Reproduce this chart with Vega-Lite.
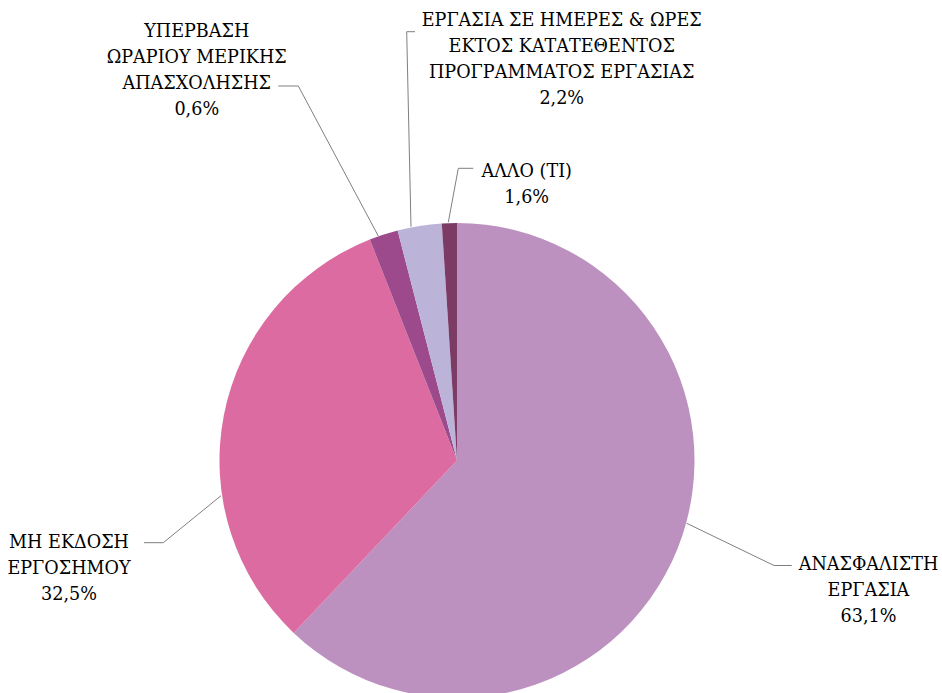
{
  "$schema": "https://vega.github.io/schema/vega-lite/v6.json",
  "width": 475,
  "height": 464,
  "autosize": {"type": "none"},
  "padding": {"left": 219.5, "top": 228.5, "right": 247.5, "bottom": 0.5},
  "background": "white",
  "config": {"view": {"stroke": null}},
  "datasets": {
    "slices": [
      {"idx": 1, "name": "ΑΝΑΣΦΑΛΙΣΤΗ ΕΡΓΑΣΙΑ", "share": 62.07, "label": "ΑΝΑΣΦΑΛΙΣΤΗ\nΕΡΓΑΣΙΑ\n63,1%"},
      {"idx": 2, "name": "ΜΗ ΕΚΔΟΣΗ ΕΡΓΟΣΗΜΟΥ", "share": 31.95, "label": "ΜΗ ΕΚΔΟΣΗ\nΕΡΓΟΣΗΜΟΥ\n32,5%"},
      {"idx": 3, "name": "ΥΠΕΡΒΑΣΗ ΩΡΑΡΙΟΥ ΜΕΡΙΚΗΣ ΑΠΑΣΧΟΛΗΣΗΣ", "share": 1.96, "label": "ΥΠΕΡΒΑΣΗ\nΩΡΑΡΙΟΥ ΜΕΡΙΚΗΣ\nΑΠΑΣΧΟΛΗΣΗΣ\n0,6%"},
      {"idx": 4, "name": "ΕΡΓΑΣΙΑ ΣΕ ΗΜΕΡΕΣ & ΩΡΕΣ ΕΚΤΟΣ ΚΑΤΑΤΕΘΕΝΤΟΣ ΠΡΟΓΡΑΜΜΑΤΟΣ ΕΡΓΑΣΙΑΣ", "share": 3.0, "label": "ΕΡΓΑΣΙΑ ΣΕ ΗΜΕΡΕΣ & ΩΡΕΣ\nΕΚΤΟΣ ΚΑΤΑΤΕΘΕΝΤΟΣ\nΠΡΟΓΡΑΜΜΑΤΟΣ ΕΡΓΑΣΙΑΣ\n2,2%"},
      {"idx": 5, "name": "ΑΛΛΟ (ΤΙ)", "share": 1.02, "label": "ΑΛΛΟ (ΤΙ)\n1,6%"}
    ],
    "leaders": [
      {"seg": "A", "k": 1, "u": 0.9672, "v": -0.2644},
      {"seg": "A", "k": 2, "u": 1.3347, "v": -0.4421},
      {"seg": "A", "k": 3, "u": 1.4093, "v": -0.4421},
      {"seg": "B", "k": 1, "u": -0.9937, "v": -0.1482},
      {"seg": "B", "k": 2, "u": -1.2366, "v": -0.3461},
      {"seg": "B", "k": 3, "u": -1.3179, "v": -0.3461},
      {"seg": "C", "k": 1, "u": -0.3314, "v": 0.9453},
      {"seg": "C", "k": 2, "u": -0.6682, "v": 1.5768},
      {"seg": "C", "k": 3, "u": -0.7524, "v": 1.5768},
      {"seg": "D", "k": 1, "u": -0.1937, "v": 0.9844},
      {"seg": "D", "k": 2, "u": -0.2118, "v": 1.8055},
      {"seg": "D", "k": 3, "u": -0.1768, "v": 1.8055},
      {"seg": "E", "k": 1, "u": -0.0366, "v": 1.0029},
      {"seg": "E", "k": 2, "u": 0.0055, "v": 1.2303},
      {"seg": "E", "k": 3, "u": 0.0686, "v": 1.2303}
    ]
  },
  "layer": [
    {
      "data": {"name": "slices"},
      "mark": {"type": "arc", "outerRadius": 237.5},
      "encoding": {
        "theta": {"field": "share", "type": "quantitative", "stack": true, "scale": {"domain": [0, 100]}},
        "order": {"field": "idx", "type": "quantitative"},
        "color": {
          "field": "name", "type": "nominal", "legend": null,
          "scale": {
            "domain": ["ΑΝΑΣΦΑΛΙΣΤΗ ΕΡΓΑΣΙΑ", "ΜΗ ΕΚΔΟΣΗ ΕΡΓΟΣΗΜΟΥ", "ΥΠΕΡΒΑΣΗ ΩΡΑΡΙΟΥ ΜΕΡΙΚΗΣ ΑΠΑΣΧΟΛΗΣΗΣ", "ΕΡΓΑΣΙΑ ΣΕ ΗΜΕΡΕΣ & ΩΡΕΣ ΕΚΤΟΣ ΚΑΤΑΤΕΘΕΝΤΟΣ ΠΡΟΓΡΑΜΜΑΤΟΣ ΕΡΓΑΣΙΑΣ", "ΑΛΛΟ (ΤΙ)"],
            "range": ["#BC91BF", "#DB6BA1", "#9C4A8B", "#BBB4D8", "#7B3B65"]
          }
        }
      }
    },
    {
      "data": {"name": "leaders"},
      "mark": {"type": "line", "color": "#7f7f7f", "strokeWidth": 1},
      "encoding": {
        "x": {"field": "u", "type": "quantitative", "scale": {"domain": [-1, 1], "nice": false, "zero": false}, "axis": null},
        "y": {"field": "v", "type": "quantitative", "scale": {"domain": [-0.97684, 0.97684], "nice": false, "zero": false}, "axis": null},
        "detail": {"field": "seg", "type": "nominal"},
        "order": {"field": "k", "type": "quantitative"}
      }
    },
    {
      "data": {"name": "slices"},
      "mark": {"type": "text", "radius": 420, "dx": 21.3, "dy": -46, "align": "center", "baseline": "alphabetic", "font": "DejaVu Serif", "fontSize": 17.6, "lineHeight": 26, "lineBreak": "\n", "color": "#000000"},
      "encoding": {
        "theta": {"field": "share", "type": "quantitative", "stack": true, "scale": {"domain": [0, 100]}},
        "order": {"field": "idx", "type": "quantitative"},
        "detail": {"field": "name", "type": "nominal"},
        "text": {"condition": {"test": "datum.idx === 1", "field": "label"}, "value": ""}
      }
    },
    {
      "data": {"name": "slices"},
      "mark": {"type": "text", "radius": 390, "dx": -5.1, "dy": 161.6, "align": "center", "baseline": "alphabetic", "font": "DejaVu Serif", "fontSize": 17.6, "lineHeight": 26, "lineBreak": "\n", "color": "#000000"},
      "encoding": {
        "theta": {"field": "share", "type": "quantitative", "stack": true, "scale": {"domain": [0, 100]}},
        "order": {"field": "idx", "type": "quantitative"},
        "detail": {"field": "name", "type": "nominal"},
        "text": {"condition": {"test": "datum.idx === 2", "field": "label"}, "value": ""}
      }
    },
    {
      "data": {"name": "slices"},
      "mark": {"type": "text", "radius": 450, "dx": -121.2, "dy": 4.4, "align": "center", "baseline": "alphabetic", "font": "DejaVu Serif", "fontSize": 17.6, "lineHeight": 26, "lineBreak": "\n", "color": "#000000"},
      "encoding": {
        "theta": {"field": "share", "type": "quantitative", "stack": true, "scale": {"domain": [0, 100]}},
        "order": {"field": "idx", "type": "quantitative"},
        "detail": {"field": "name", "type": "nominal"},
        "text": {"condition": {"test": "datum.idx === 3", "field": "label"}, "value": ""}
      }
    },
    {
      "data": {"name": "slices"},
      "mark": {"type": "text", "radius": 440, "dx": 174.1, "dy": 0, "align": "center", "baseline": "alphabetic", "font": "DejaVu Serif", "fontSize": 17.6, "lineHeight": 26, "lineBreak": "\n", "color": "#000000"},
      "encoding": {
        "theta": {"field": "share", "type": "quantitative", "stack": true, "scale": {"domain": [0, 100]}},
        "order": {"field": "idx", "type": "quantitative"},
        "detail": {"field": "name", "type": "nominal"},
        "text": {"condition": {"test": "datum.idx === 4", "field": "label"}, "value": ""}
      }
    },
    {
      "data": {"name": "slices"},
      "mark": {"type": "text", "radius": 284, "dx": 78.8, "dy": 0.4, "align": "center", "baseline": "alphabetic", "font": "DejaVu Serif", "fontSize": 17.6, "lineHeight": 26, "lineBreak": "\n", "color": "#000000"},
      "encoding": {
        "theta": {"field": "share", "type": "quantitative", "stack": true, "scale": {"domain": [0, 100]}},
        "order": {"field": "idx", "type": "quantitative"},
        "detail": {"field": "name", "type": "nominal"},
        "text": {"condition": {"test": "datum.idx === 5", "field": "label"}, "value": ""}
      }
    }
  ]
}
